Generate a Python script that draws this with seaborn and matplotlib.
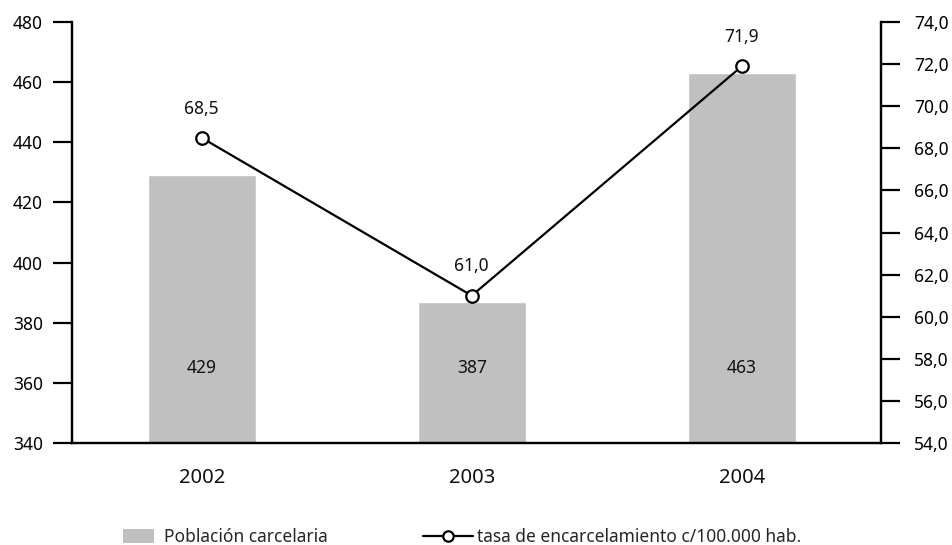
import numpy as np
import pandas as pd
import matplotlib
matplotlib.use("Agg")
import matplotlib.pyplot as plt
from matplotlib.patches import Patch
from matplotlib.lines import Line2D
from matplotlib.ticker import FuncFormatter
import seaborn as sns

# Data
years = ["2002", "2003", "2004"]
poblacion = [429, 387, 463]
tasa = [68.5, 61.0, 71.9]
left_ticks = [340, 360, 380, 400, 420, 440, 460, 480]
right_ticks = [54, 56, 58, 60, 62, 64, 66, 68, 70, 72, 74]

sns.set_theme(style="white")
plt.rcParams["font.family"] = ["Noto Sans", "DejaVu Sans"]
plt.rcParams["font.size"] = 12.5

BAR_COLOR = "#c0c0c0"

fig = plt.figure(figsize=(9.52, 5.45), dpi=100)
ax = fig.add_axes([72 / 952, 1 - 443 / 545, (881 - 72) / 952, (443 - 22) / 545])

df = pd.DataFrame({"anio": years, "poblacion": poblacion})
sns.barplot(data=df, x="anio", y="poblacion", color=BAR_COLOR, width=0.4,
            saturation=1, ax=ax)
ax.set_ylim(340, 480)
ax.set_xlim(-0.48, 2.515)
ax.set_yticks(left_ticks)
ax.set_xlabel("")
ax.set_ylabel("")

# Bar value labels
for i, v in enumerate(poblacion):
    ax.text(i, 365, f"{v}", ha="center", va="center", fontsize=12.5, color="#111111")

# Rate line on the secondary axis
ax2 = ax.twinx()
pos = np.arange(len(years))
rate_df = pd.DataFrame({"pos": pos, "tasa": tasa})
sns.lineplot(data=rate_df, x="pos", y="tasa", ax=ax2, color="black", lw=1.6,
             marker="o", markersize=9, markerfacecolor="white",
             markeredgecolor="black", markeredgewidth=1.6)
ax2.set_ylim(54, 74)
ax2.set_yticks(right_ticks)
ax2.yaxis.set_major_formatter(FuncFormatter(lambda v, p: f"{v:.1f}".replace(".", ",")))
ax2.set_xlabel("")
ax2.set_ylabel("")

for i, v in enumerate(tasa):
    ax2.annotate(f"{v:.1f}".replace(".", ","), (i, v), xytext=(0, 21),
                 textcoords="offset points", ha="center", va="center",
                 fontsize=12.5, color="#111111")

# Axes styling
for a in (ax, ax2):
    a.spines["top"].set_visible(False)
    for s in ("left", "right", "bottom"):
        a.spines[s].set_linewidth(1.6)
        a.spines[s].set_color("black")
    a.grid(False)

ax.tick_params(axis="y", direction="out", length=14, width=1.6, pad=7,
               colors="black", labelsize=12.5, left=True)
ax.tick_params(axis="x", length=0, pad=18, labelsize=14.5, colors="#111111")
ax2.tick_params(axis="y", direction="out", length=14, width=1.6, pad=10,
                colors="black", labelsize=12.5, right=True)
ax.set_xticks(pos)
ax.set_xticklabels(years)

# Legends
leg1 = fig.legend(handles=[Patch(facecolor=BAR_COLOR, edgecolor="none")],
                  labels=["Población carcelaria"], loc="center left",
                  bbox_to_anchor=(123 / 952, 1 - 537 / 545), frameon=False,
                  borderpad=0, borderaxespad=0, handlelength=1.8,
                  handleheight=0.9, handletextpad=0.55, fontsize=12.5)
leg2 = fig.legend(handles=[Line2D([0], [0], color="black", lw=1.6, marker="o",
                                  markersize=7.5, markerfacecolor="white",
                                  markeredgecolor="black", markeredgewidth=1.6)],
                  labels=["tasa de encarcelamiento c/100.000 hab."],
                  loc="center left", bbox_to_anchor=(423 / 952, 1 - 537 / 545),
                  frameon=False, borderpad=0, borderaxespad=0, handlelength=2.9,
                  handletextpad=0.2, fontsize=12.5)

fig.savefig("out.png", dpi=100)
